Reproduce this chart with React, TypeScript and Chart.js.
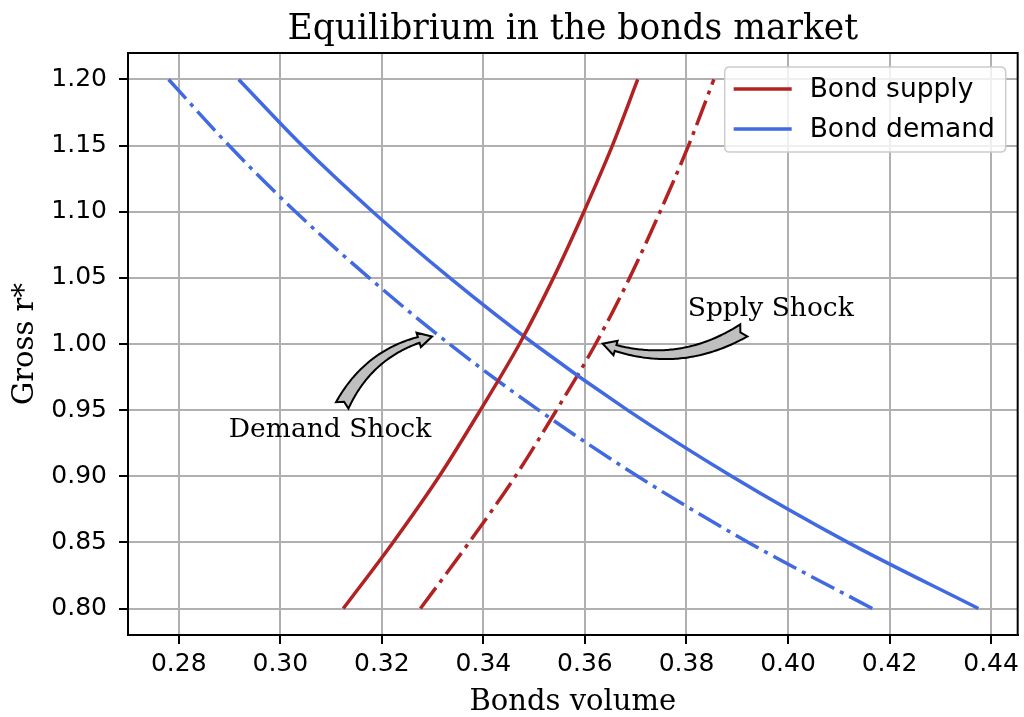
import React, { useEffect, useRef } from "react";
import { Chart, registerables } from "chart.js";

Chart.register(...registerables);

// ---------- data ----------
const supplyRates = [0.8, 0.85, 0.9, 0.95, 1.0, 1.05, 1.1, 1.15, 1.2];
const supplyBase = [0.3124, 0.3222, 0.3313, 0.3394, 0.3471, 0.3538, 0.3598, 0.3654, 0.3704];
const supplyShocked = [0.3276, 0.3372, 0.3463, 0.3544, 0.3621, 0.3688, 0.3748, 0.3804, 0.3854];

const demandRates = [0.8, 0.85, 0.9, 0.95, 1.0, 1.05, 1.1, 1.15, 1.2];
const demandBase = [0.4375, 0.4118, 0.3889, 0.3684, 0.35, 0.3334, 0.3182, 0.3043, 0.2918];
const demandShocked = [0.4166, 0.3922, 0.3704, 0.3509, 0.3333, 0.3175, 0.303, 0.2899, 0.278];

const xTicks = [0.28, 0.3, 0.32, 0.34, 0.36, 0.38, 0.4, 0.42, 0.44];
const yTicks = [0.8, 0.85, 0.9, 0.95, 1.0, 1.05, 1.1, 1.15, 1.2];

const titleText = "Equilibrium in the bonds market";
const xLabel = "Bonds volume";
const yLabel = "Gross r*";
const legendLabels = ["Bond supply", "Bond demand"];

const annLabels = ["Demand Shock", "Spply Shock"];
const annTextX = [0.3098, 0.3966];
const annTextY = [0.9297, 1.0209];
const arrowTailX = [0.3122, 0.3913];
const arrowTailY = [0.9536, 1.0103];
const arrowHeadX = [0.3299, 0.3635];
const arrowHeadY = [1.0057, 1.0002];
const arrowRad = [-0.24, -0.24];

// ---------- style ----------
const RED = "#b22222";
const BLUE = "#4169e1";
const DASHDOT = [26, 6.5, 4, 6.5];
const SANS = "'DejaVu Sans', sans-serif";
const SERIF = "'DejaVu Serif', serif";

type P = { x: number; y: number };

function drawFancyArrow(ctx: CanvasRenderingContext2D, T: P, H: P, rad: number) {
  const dx = H.x - T.x;
  const dy = H.y - T.y;
  const mx = (T.x + H.x) / 2;
  const my = (T.y + H.y) / 2;
  const C = { x: mx - rad * dy, y: my + rad * dx };
  const N = 80;
  const pts: P[] = [];
  for (let i = 0; i <= N; i++) {
    const t = i / N;
    const a = (1 - t) * (1 - t);
    const b = 2 * (1 - t) * t;
    const c = t * t;
    pts.push({ x: a * T.x + b * C.x + c * H.x, y: a * T.y + b * C.y + c * H.y });
  }
  const cum = [0];
  for (let i = 1; i <= N; i++) {
    cum.push(cum[i - 1] + Math.hypot(pts[i].x - pts[i - 1].x, pts[i].y - pts[i - 1].y));
  }
  const total = cum[N];
  const headLen = 13;
  const headW = 15;
  const wTail = 14;
  const wNeck = 6;
  let neck = N;
  while (neck > 0 && total - cum[neck] < headLen) neck--;
  const normals: P[] = pts.map((p, i) => {
    const p0 = pts[Math.max(0, i - 1)];
    const p1 = pts[Math.min(N, i + 1)];
    const tx = p1.x - p0.x;
    const ty = p1.y - p0.y;
    const l = Math.hypot(tx, ty) || 1;
    return { x: -ty / l, y: tx / l };
  });
  const width = (i: number) => wTail + (wNeck - wTail) * (cum[i] / cum[neck]);
  ctx.save();
  ctx.beginPath();
  for (let i = 0; i <= neck; i++) {
    const w = width(i) / 2;
    const x = pts[i].x + normals[i].x * w;
    const y = pts[i].y + normals[i].y * w;
    if (i === 0) ctx.moveTo(x, y);
    else ctx.lineTo(x, y);
  }
  const nk = pts[neck];
  const nn = normals[neck];
  ctx.lineTo(nk.x + nn.x * headW / 2, nk.y + nn.y * headW / 2);
  ctx.lineTo(H.x, H.y);
  ctx.lineTo(nk.x - nn.x * headW / 2, nk.y - nn.y * headW / 2);
  for (let i = neck; i >= 0; i--) {
    const w = width(i) / 2;
    ctx.lineTo(pts[i].x - normals[i].x * w, pts[i].y - normals[i].y * w);
  }
  const tdx = pts[2].x - pts[0].x;
  const tdy = pts[2].y - pts[0].y;
  const tl = Math.hypot(tdx, tdy) || 1;
  ctx.lineTo(pts[0].x + (tdx / tl) * 4, pts[0].y + (tdy / tl) * 4);
  ctx.closePath();
  ctx.fillStyle = "#bfbfbf";
  ctx.fill();
  ctx.lineWidth = 2;
  ctx.strokeStyle = "#000";
  ctx.lineJoin = "miter";
  ctx.stroke();
  ctx.restore();
}

const overlayPlugin = {
  id: "overlay",
  afterDatasetsDraw(chart: any) {
    const { ctx, chartArea: a, scales } = chart;
    const xs = scales.x;
    const ys = scales.y;
    ctx.save();
    // spines
    ctx.strokeStyle = "#000";
    ctx.lineWidth = 2;
    ctx.strokeRect(a.left, a.top, a.right - a.left, a.bottom - a.top);

    // annotations
    for (let i = 0; i < annLabels.length; i++) {
      const T = { x: xs.getPixelForValue(arrowTailX[i]), y: ys.getPixelForValue(arrowTailY[i]) };
      const H = { x: xs.getPixelForValue(arrowHeadX[i]), y: ys.getPixelForValue(arrowHeadY[i]) };
      drawFancyArrow(ctx, T, H, arrowRad[i]);
      ctx.font = `26.5px ${SERIF}`;
      ctx.fillStyle = "#000";
      ctx.textAlign = "center";
      ctx.textBaseline = "alphabetic";
      ctx.fillText(annLabels[i], xs.getPixelForValue(annTextX[i]), ys.getPixelForValue(annTextY[i]));
    }

    // legend
    const bw = 281;
    const bh = 85;
    const bx = a.right - 12 - bw;
    const by = a.top + 14;
    const r = 5;
    ctx.beginPath();
    ctx.moveTo(bx + r, by);
    ctx.lineTo(bx + bw - r, by);
    ctx.quadraticCurveTo(bx + bw, by, bx + bw, by + r);
    ctx.lineTo(bx + bw, by + bh - r);
    ctx.quadraticCurveTo(bx + bw, by + bh, bx + bw - r, by + bh);
    ctx.lineTo(bx + r, by + bh);
    ctx.quadraticCurveTo(bx, by + bh, bx, by + bh - r);
    ctx.lineTo(bx, by + r);
    ctx.quadraticCurveTo(bx, by, bx + r, by);
    ctx.closePath();
    ctx.fillStyle = "rgba(255,255,255,0.8)";
    ctx.fill();
    ctx.strokeStyle = "#cccccc";
    ctx.lineWidth = 1.5;
    ctx.stroke();
    const colors = [RED, BLUE];
    for (let i = 0; i < legendLabels.length; i++) {
      const yy = by + 22 + i * 40;
      ctx.beginPath();
      ctx.moveTo(bx + 9, yy);
      ctx.lineTo(bx + 67, yy);
      ctx.strokeStyle = colors[i];
      ctx.lineWidth = 3.5;
      ctx.setLineDash([]);
      ctx.stroke();
      ctx.font = `26.5px ${SANS}`;
      ctx.fillStyle = "#000";
      ctx.textAlign = "left";
      ctx.textBaseline = "middle";
      ctx.fillText(legendLabels[i], bx + 85, yy + 1);
    }

    // titles
    const cx = (a.left + a.right) / 2;
    ctx.fillStyle = "#000";
    ctx.textAlign = "center";
    ctx.textBaseline = "alphabetic";
    ctx.font = `34.5px ${SERIF}`;
    ctx.fillText(titleText, cx, 39);
    ctx.font = `29px ${SERIF}`;
    ctx.fillText(xLabel, cx, 710);
    ctx.save();
    ctx.translate(33, (a.top + a.bottom) / 2);
    ctx.rotate(-Math.PI / 2);
    ctx.fillText(yLabel, 0, 0);
    ctx.restore();
    ctx.restore();
  },
};

export default function App() {
  const ref = useRef<HTMLCanvasElement | null>(null);
  useEffect(() => {
    if (!ref.current) return;
    const line = (xs: number[], ys: number[], color: string, dash: number[]) => ({
      data: xs.map((x, i) => ({ x, y: ys[i] })),
      borderColor: color,
      backgroundColor: color,
      borderWidth: 3.5,
      borderDash: dash,
      borderCapStyle: "butt" as const,
      showLine: true,
      pointRadius: 0,
      fill: false,
      cubicInterpolationMode: "monotone" as const,
    });
    const grid = {
      color: "#b0b0b0",
      lineWidth: 2,
      drawTicks: true,
      tickLength: 9,
      tickColor: "#000",
      tickWidth: 2,
    };
    const chart = new Chart(ref.current, {
      type: "scatter",
      data: {
        datasets: [
          line(supplyBase, supplyRates, RED, []),
          line(demandBase, demandRates, BLUE, []),
          line(supplyShocked, supplyRates, RED, DASHDOT),
          line(demandShocked, demandRates, BLUE, DASHDOT),
        ],
      },
      options: {
        responsive: false,
        animation: false,
        devicePixelRatio: 1,
        layout: { padding: { top: 53, right: 3, left: 0, bottom: 0 } },
        plugins: {
          legend: { display: false },
          title: { display: false },
          tooltip: { enabled: false },
        },
        scales: {
          x: {
            type: "linear",
            min: 0.27,
            max: 0.44524,
            afterBuildTicks: (s: any) => {
              s.ticks = xTicks.map((v) => ({ value: v }));
            },
            afterFit: (s: any) => {
              s.height = 82;
            },
            grid,
            border: { display: true, color: "#000", width: 2 },
            ticks: {
              autoSkip: false,
              maxRotation: 0,
              padding: 5,
              color: "#000",
              font: { family: SANS, size: 25 },
              callback: (v: any) => Number(v).toFixed(2),
            },
          },
          y: {
            type: "linear",
            min: 0.78,
            max: 1.22,
            afterBuildTicks: (s: any) => {
              s.ticks = yTicks.map((v) => ({ value: v }));
            },
            afterFit: (s: any) => {
              s.width = 128;
            },
            grid,
            border: { display: true, color: "#000", width: 2 },
            ticks: {
              autoSkip: false,
              padding: 12,
              color: "#000",
              font: { family: SANS, size: 25 },
              callback: (v: any) => Number(v).toFixed(2),
            },
          },
        },
      },
      plugins: [overlayPlugin],
    });
    return () => chart.destroy();
  }, []);
  return (
    <div style={{ position: "absolute", left: 0, top: 0, width: 1024, height: 717, background: "#fff" }}>
      <canvas ref={ref} width={1024} height={717} style={{ display: "block", width: 1024, height: 717 }} />
    </div>
  );
}
